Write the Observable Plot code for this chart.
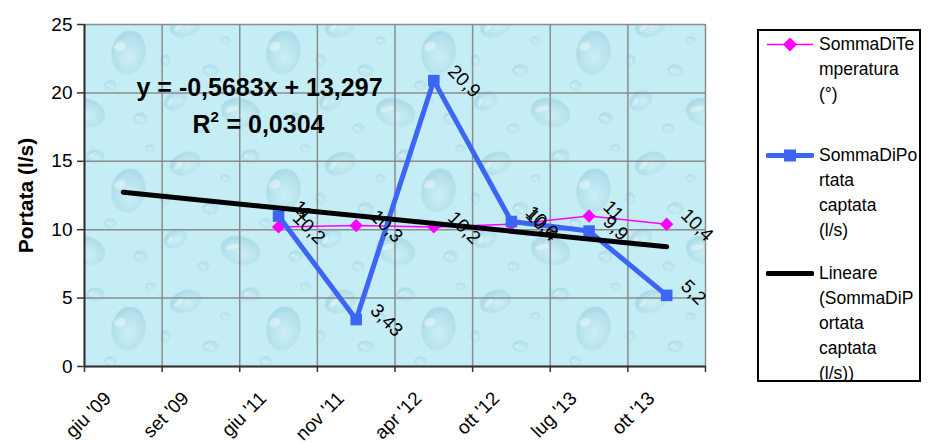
<!DOCTYPE html>
<html><head><meta charset="utf-8">
<script src="https://cdn.jsdelivr.net/npm/d3@7"></script>
<script src="https://cdn.jsdelivr.net/npm/@observablehq/plot@0.6"></script>
<style>
body{margin:0;background:#fff;font-family:"Liberation Sans",Arial,sans-serif;}
#wrap{position:relative;width:938px;height:443px;}
#legend{position:absolute;left:757px;top:29px;width:160px;height:349px;border:2px solid #000;background:#fff;font-size:17.5px;line-height:25px;color:#000;overflow:hidden}
.entry{position:absolute;left:0;width:160px;}
.entry svg{position:absolute;left:7px;}
.entry .txt{position:absolute;left:60px;white-space:nowrap;}
</style></head><body><div id="wrap"></div>
<script>
const categories = ["giu '09","set '09","giu '11","nov '11","apr '12","ott '12","lug '13","ott '13"];
const seriesCats = ["giu '11","nov '11","apr '12","ott '12","lug '13","ott '13"];
const temperatura = [10.2, 10.3, 10.2, 10.4, 11, 10.4];
const portata = [11, 3.43, 20.9, 10.6, 9.9, 5.2];
const trendCats = ["giu '09","ott '13"];
const trendValues = [12.73, 8.75];
const yTicks = [0, 5, 10, 15, 20, 25];
const equationText = "y = -0,5683x + 13,297";
const r2Base = "R";
const r2Sup = "2";
const r2Rest = " = 0,0304";
const yLabel = "Portata (l/s)";
const legendTemp = ["SommaDiTe", "mperatura", "(°)"];
const legendPortata = ["SommaDiPo", "rtata", "captata", "(l/s)"];
const legendTrend = ["Lineare", "(SommaDiP", "ortata", "captata", "(l/s))"];

const PINK = "#ff00ff", BLUE = "#3d65f5", GRID = "#8c8c8c";
const idx = c => categories.indexOf(c) + 1;
const boundaries = categories.map((_, i) => i + 0.5).concat([categories.length + 0.5]);
const fmt = v => String(v).replace(".", ",");
const tempData = seriesCats.map((c, i) => ({c, v: temperatura[i]}));
const portData = seriesCats.map((c, i) => ({c, v: portata[i]}));
const trendData = trendCats.map((c, i) => ({c, v: trendValues[i]}));

const chart = Plot.plot({
  width: 938, height: 443,
  marginLeft: 84, marginRight: 233, marginTop: 24, marginBottom: 77,
  style: {fontFamily: '"Liberation Sans", Arial, sans-serif', background: "#fff", color: "#000"},
  x: {domain: [0.5, categories.length + 0.5], axis: null},
  y: {domain: [0, 25], axis: null},
  marks: [
    Plot.frame({fill: "url(#drops)", stroke: null}),
    Plot.gridX(boundaries, {stroke: GRID, strokeOpacity: 1, strokeWidth: 1.5}),
    Plot.gridY(yTicks, {stroke: GRID, strokeOpacity: 1, strokeWidth: 1.5}),
    Plot.ruleX([0.5], {stroke: "#333", strokeWidth: 2}),
    Plot.ruleY([0], {stroke: "#333", strokeWidth: 2}),
    Plot.axisX(boundaries, {tickSize: 6, tickFormat: () => "", stroke: "#333", strokeWidth: 1.5, label: null}),
    Plot.axisY(yTicks, {tickSize: 7, tickPadding: 5, fontSize: 19, stroke: "#333", strokeWidth: 1.5, label: null}),
    Plot.text(categories, {x: (d, i) => i + 1, frameAnchor: "bottom", text: d => d, rotate: -45, textAnchor: "end", lineAnchor: "bottom", dx: -11, dy: 33, fontSize: 19}),
    Plot.line(tempData, {x: d => idx(d.c), y: "v", stroke: PINK, strokeWidth: 1.5}),
    Plot.dot(tempData, {x: d => idx(d.c), y: "v", symbol: "diamond2", r: 6, fill: PINK, stroke: null}),
    Plot.line(portData, {x: d => idx(d.c), y: "v", stroke: BLUE, strokeWidth: 5}),
    Plot.dot(portData, {x: d => idx(d.c), y: "v", symbol: "square", r: 6.5, fill: BLUE, stroke: null}),
    Plot.line(trendData, {x: d => idx(d.c), y: "v", stroke: "#000", strokeWidth: 5}),
    Plot.text(tempData, {x: d => idx(d.c), y: "v", text: d => fmt(d.v), rotate: 45, textAnchor: "start", lineAnchor: "bottom", dx: 13, dy: -8, fontSize: 19}),
    Plot.text(portData, {x: d => idx(d.c), y: "v", text: d => fmt(d.v), rotate: 45, textAnchor: "start", lineAnchor: "bottom", dx: 13, dy: -8, fontSize: 19}),
    Plot.text([equationText], {frameAnchor: "top-left", dx: 259 - 84, dy: 95 - 24, textAnchor: "middle", lineAnchor: "bottom", fontWeight: "bold", fontSize: 25}),
    Plot.text([r2Base], {frameAnchor: "top-left", dx: 192 - 84, dy: 132 - 24, textAnchor: "start", lineAnchor: "bottom", fontWeight: "bold", fontSize: 25}),
    Plot.text([r2Sup], {frameAnchor: "top-left", dx: 210 - 84, dy: 121 - 24, textAnchor: "start", lineAnchor: "bottom", fontWeight: "bold", fontSize: 15}),
    Plot.text([r2Rest], {frameAnchor: "top-left", dx: 219 - 84, dy: 132 - 24, textAnchor: "start", lineAnchor: "bottom", fontWeight: "bold", fontSize: 25}),
    Plot.text([yLabel], {frameAnchor: "left", dx: -52, rotate: -90, textAnchor: "middle", lineAnchor: "bottom", fontWeight: "bold", fontSize: 21})
  ]
});

// water-drop texture pattern (decoration only)
const svg = d3.select(chart);
const defs = svg.insert("defs", ":first-child");
const rg = defs.append("radialGradient").attr("id", "dropg").attr("cx", "55%").attr("cy", "60%").attr("r", "60%");
rg.append("stop").attr("offset", "0%").attr("stop-color", "#d2f0f6");
rg.append("stop").attr("offset", "70%").attr("stop-color", "#a8d9e7");
rg.append("stop").attr("offset", "100%").attr("stop-color", "#8fc8da");
const pat = defs.append("pattern").attr("id", "drops").attr("patternUnits", "userSpaceOnUse")
  .attr("width", 155).attr("height", 138);
pat.append("rect").attr("width", 155).attr("height", 138).attr("fill", "#c5edf5");
[[30, 25, 16, 11, -20], [95, 18, 9, 7, 0], [128, 52, 17, 22, 10], [55, 70, 8, 6, 0], [20, 100, 12, 9, -30],
 [85, 112, 20, 14, 15], [140, 118, 7, 6, 0], [70, 40, 5, 4, 0], [110, 85, 6, 5, 0], [10, 60, 5, 6, 0],
 [48, 128, 6, 5, 0], [150, 10, 5, 4, 0]].forEach(([cx, cy, rx, ry, a]) => {
  pat.append("ellipse").attr("cx", cx).attr("cy", cy).attr("rx", rx).attr("ry", ry)
    .attr("transform", `rotate(${a} ${cx} ${cy})`)
    .attr("fill", "url(#dropg)").attr("opacity", 0.55);
  pat.append("ellipse").attr("cx", cx - rx * 0.35).attr("cy", cy - ry * 0.4).attr("rx", rx * 0.35).attr("ry", ry * 0.2)
    .attr("transform", `rotate(${a - 30} ${cx} ${cy})`)
    .attr("fill", "#ffffff").attr("opacity", 0.4);
});

const wrap = document.getElementById("wrap");
wrap.appendChild(chart);

// legend
const legend = document.createElement("div");
legend.id = "legend";
function entry(top, lines, swatch) {
  const e = document.createElement("div");
  e.className = "entry";
  e.style.top = top + "px";
  e.innerHTML = swatch + '<div class="txt">' + lines.join("<br>") + "</div>";
  legend.appendChild(e);
}
const sw = (inner) => '<svg width="48" height="25" style="top:0">' + inner + "</svg>";
entry(1, legendTemp, sw(`<line x1="1" x2="47" y1="12.5" y2="12.5" stroke="${PINK}" stroke-width="1.5"/><rect x="19" y="7.5" width="10" height="10" fill="${PINK}" transform="rotate(45 24 12.5)"/>`));
entry(112, legendPortata, sw(`<line x1="2" x2="46" y1="12.5" y2="12.5" stroke="${BLUE}" stroke-width="5" stroke-linecap="round"/><rect x="18" y="6.5" width="12" height="12" fill="${BLUE}"/>`));
entry(230, legendTrend, sw(`<line x1="2" x2="46" y1="12.5" y2="12.5" stroke="#000" stroke-width="5" stroke-linecap="round"/>`));
wrap.appendChild(legend);
</script></body></html>
